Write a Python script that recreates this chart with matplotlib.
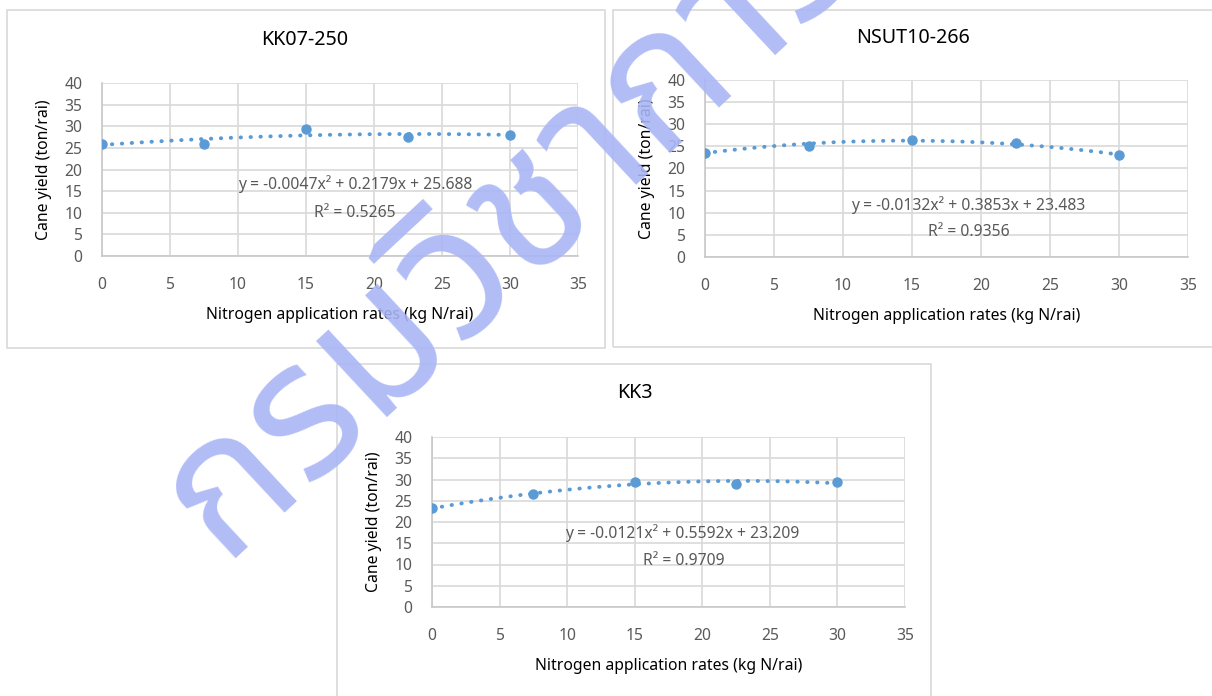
import numpy as np
import matplotlib.pyplot as plt
from matplotlib.patches import Rectangle

W, H = 1212, 696

# nitrogen rates (kg N/rai) and cane yield (ton/rai)
rates = [0, 7.5, 15, 22.5, 30]
kk07_250 = [25.9, 25.8, 29.4, 27.4, 28.0]
nsut10_266 = [23.6, 25.1, 26.4, 25.8, 23.1]
kk3 = [23.2, 26.5, 29.5, 29.0, 29.3]

# trendline coefficients as printed on the chart
coef_kk07_250 = [-0.0047, 0.2179, 25.688]
coef_nsut10_266 = [-0.0132, 0.3853, 23.483]
coef_kk3 = [-0.0121, 0.5592, 23.209]
r2_kk07_250 = 0.5265
r2_nsut10_266 = 0.9356
r2_kk3 = 0.9709

titles = ["KK07-250", "NSUT10-266", "KK3"]
xticks = [0, 5, 10, 15, 20, 25, 30, 35]
yticks = [0, 5, 10, 15, 20, 25, 30, 35, 40]
watermark = "กรมวิชาการเกษตร"

blue = "#5B9BD5"
grid = "#D9D9D9"
tick_col = "#595959"

plt.rcParams['font.family'] = ['Noto Sans', 'DejaVu Sans']

fig = plt.figure(figsize=(W / 100, H / 100), dpi=100)
fig.patch.set_facecolor("white")


def px_box(x0, y0, x1, y1):
    return [x0 / W, 1 - y1 / H, (x1 - x0) / W, (y1 - y0) / H]


def px(x, y):
    return x / W, 1 - y / H


panels = [
    # axes box, border box, title pos, eq pos, r2 pos (data coords)
    dict(ax=(102, 83, 578, 256), border=(7, 10, 605, 348), title=(305, 40),
         y=kk07_250, coef=coef_kk07_250, r2=r2_kk07_250, eq=(18.6, 16.6), r2pos=(18.6, 9.9)),
    dict(ax=(705, 80, 1188, 257), border=(613, 10, 1216, 347), title=(913, 38),
         y=nsut10_266, coef=coef_nsut10_266, r2=r2_nsut10_266, eq=(19.1, 11.7), r2pos=(19.1, 5.6)),
    dict(ax=(432, 437, 905, 607), border=(337, 364, 931, 700), title=(635, 393),
         y=kk3, coef=coef_kk3, r2=r2_kk3, eq=(18.5, 17.4), r2pos=(18.6, 10.8)),
]

for p, name in zip(panels, titles):
    bx0, by0, bx1, by1 = p['border']
    fig.patches.append(Rectangle(px(bx0, by1), (bx1 - bx0) / W, (by1 - by0) / H,
                                 transform=fig.transFigure, fill=False,
                                 edgecolor=grid, linewidth=1.2, zorder=0))

    ax = fig.add_axes(px_box(*p['ax']))
    ax.set_xlim(0, 35)
    ax.set_ylim(0, 40)
    ax.set_xticks(xticks)
    ax.set_yticks(yticks)
    ax.grid(True, color=grid, linewidth=1.2)
    ax.set_axisbelow(True)
    for s in ['top', 'right']:
        ax.spines[s].set_visible(False)
    for s in ['left', 'bottom']:
        ax.spines[s].set_color("#C8C8C8")
        ax.spines[s].set_linewidth(1.2)
    ax.tick_params(length=0, labelsize=11.3, colors=tick_col)
    ax.tick_params(axis='x', pad=15)
    ax.tick_params(axis='y', pad=14)

    xs = np.linspace(rates[0], rates[-1], 200)
    ax.plot(xs, np.polyval(p['coef'], xs), color=blue, linewidth=2.8,
            linestyle=(0, (0.1, 2.45)), dash_capstyle='round', zorder=2)
    ax.plot(rates, p['y'], 'o', color=blue, markersize=6.5, zorder=3)

    c2, c1, c0 = p['coef']
    ax.text(*p['eq'], f"y = {c2}x² + {c1}x + {c0}", ha='center', va='center',
            fontsize=11.3, color=tick_col)
    ax.text(*p['r2pos'], f"R² = {p['r2']}", ha='center', va='center',
            fontsize=11.3, color=tick_col)

    ax0, ay0, ax1, ay1 = p['ax']
    fig.text(*px(*p['title']), name, ha='center', va='center', fontsize=14.2)
    fig.text(*px((ax0 + ax1) / 2, ay1 + 59), "Nitrogen application rates (kg N/rai)",
             ha='center', va='center', fontsize=11.3)
    fig.text(*px(ax0 - 58, (ay0 + ay1) / 2), "Cane yield (ton/rai)",
             ha='center', va='center', rotation=90, fontsize=11.3)

fig.text(*px(222, 560), watermark, rotation=43, rotation_mode='anchor',
         ha='left', va='baseline', fontsize=136, color="#A9B6F6", alpha=0.9,
         family=['Noto Sans Thai', 'Loma', 'Garuda', 'Tlwg Typo', 'DejaVu Sans'],
         zorder=10)

fig.savefig("out.png", dpi=100, facecolor="white")
